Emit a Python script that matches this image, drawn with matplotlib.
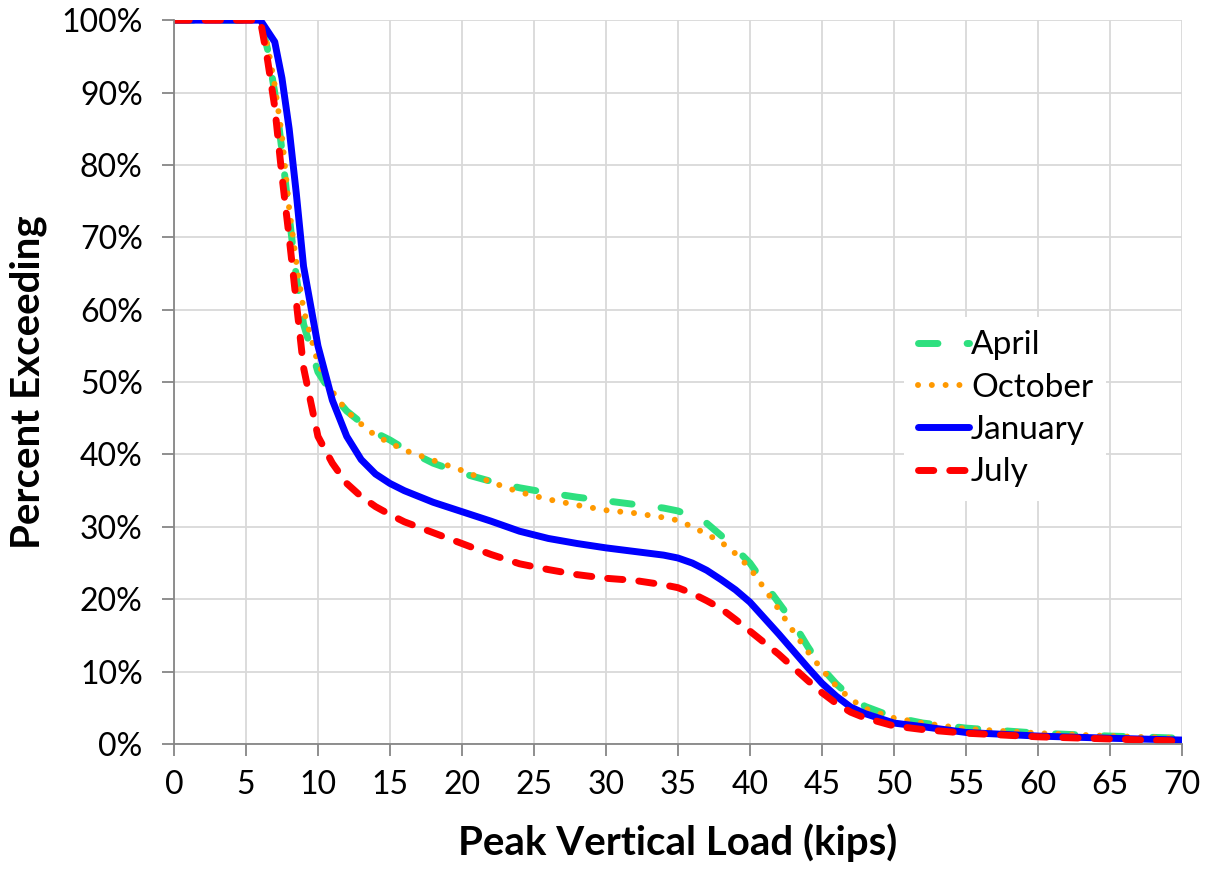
import numpy as np
import matplotlib.pyplot as plt
from matplotlib.ticker import FuncFormatter

last_kips = [0, 6, 6.5, 7, 7.5, 8, 8.5, 9, 10, 11, 12, 13, 14, 15, 16, 18, 20, 22,
             24, 26, 28, 30, 32, 34, 35, 36, 37, 38, 39, 40, 41, 42, 43, 44, 45,
             46, 47, 48, 50, 52, 55, 60, 65, 70]

# Prozent ueberschritten je Monat
april = [100, 100, 96, 90, 82, 73, 64.5, 58, 51.4, 48.3, 46.0, 44.4, 43.0, 42.0,
         40.8, 38.8, 37.4, 36.3, 35.4, 34.7, 34.1, 33.6, 33.1, 32.6, 32.2, 31.4,
         30.5, 28.8, 27.0, 25.0, 22.2, 19.5, 16.8, 13.5, 10.5, 8.3, 6.5, 5.2,
         3.7, 2.9, 2.2, 1.5, 1.1, 0.8]
oktober = [100, 100, 96.5, 91, 84, 74, 66.5, 60, 52.6, 48.7, 46.0, 44.2, 42.6,
           41.6, 40.6, 39.2, 37.8, 36.2, 34.8, 33.8, 33.0, 32.3, 31.9, 31.3, 30.9,
           30.0, 29.0, 27.9, 26.3, 24.3, 21.5, 18.6, 15.6, 12.8, 10.3, 8.0, 6.2,
           4.9, 3.6, 2.9, 2.1, 1.5, 1.1, 0.8]
januar = [100, 100, 98.5, 97, 92, 85, 76, 66, 55, 47.5, 42.5, 39.3, 37.3, 36.0,
          35.0, 33.4, 32.1, 30.8, 29.4, 28.4, 27.7, 27.1, 26.6, 26.1, 25.7, 25.0,
          24.0, 22.7, 21.3, 19.6, 17.4, 15.2, 12.9, 10.6, 8.4, 6.6, 5.1, 4.2,
          2.9, 2.4, 1.6, 1.1, 0.8, 0.55]
juli = [100, 100, 94.5, 88, 78.5, 70, 61, 52, 42.5, 38.8, 36.0, 34.2, 32.8, 31.7,
        30.7, 29.2, 27.7, 26.2, 24.9, 24.1, 23.4, 22.9, 22.6, 22.0, 21.6, 20.8,
        19.8, 18.7, 17.2, 15.6, 14.0, 12.4, 10.6, 8.8, 7.1, 5.6, 4.4, 3.6,
        2.5, 2.0, 1.5, 1.0, 0.7, 0.4]

plt.rcParams['font.family'] = ['Lato', 'DejaVu Sans']

fig = plt.figure(figsize=(12.13, 8.69), dpi=100)
ax = fig.add_axes([0.1434, 0.1438, 0.831, 0.833])

ax.plot(last_kips, april, color='#2ee07f', lw=5, dashes=(2.8, 4.2),
        dash_capstyle='round', label='April')
ax.plot(last_kips, oktober, color='#ff9900', lw=4.3, dashes=(0.01, 2.3),
        dash_capstyle='round', label='October')
ax.plot(last_kips, januar, color='#0000ff', lw=5, solid_capstyle='round',
        label='January')
ax.plot(last_kips, juli, color='#ff0000', lw=5, dashes=(2.2, 2.3),
        dash_capstyle='round', label='July')

ax.set_xlim(0, 70)
ax.set_ylim(0, 100)
ax.set_xticks(np.arange(0, 71, 5))
ax.set_yticks(np.arange(0, 101, 10))
ax.yaxis.set_major_formatter(FuncFormatter(lambda v, p: f"{v:.0f}%"))

ax.grid(True, color='#d9d9d9', lw=1.3)
ax.set_axisbelow(True)
for s in ['top', 'right']:
    ax.spines[s].set_visible(False)
for s in ['left', 'bottom']:
    ax.spines[s].set_color('#868686')
    ax.spines[s].set_linewidth(1.3)
ax.tick_params(direction='out', length=8.5, width=1.3, color='#868686',
               labelsize=23)
ax.tick_params(axis='x', pad=10)
ax.tick_params(axis='y', pad=14)

ax.set_xlabel("Peak Vertical Load (kips)", fontsize=29, fontweight='bold', labelpad=17)
ax.set_ylabel("Percent Exceeding", fontsize=29, fontweight='bold', labelpad=10)

leg = ax.legend(loc='upper left', bbox_to_anchor=(0.708, 0.613), fontsize=24,
                handlelength=1.55, handletextpad=0.05, labelspacing=0.37,
                frameon=True, fancybox=False, borderpad=0.4)
leg.get_frame().set_edgecolor('none')
leg.get_frame().set_facecolor('white')
leg.get_frame().set_alpha(1)

plt.savefig("out.png", dpi=100)
